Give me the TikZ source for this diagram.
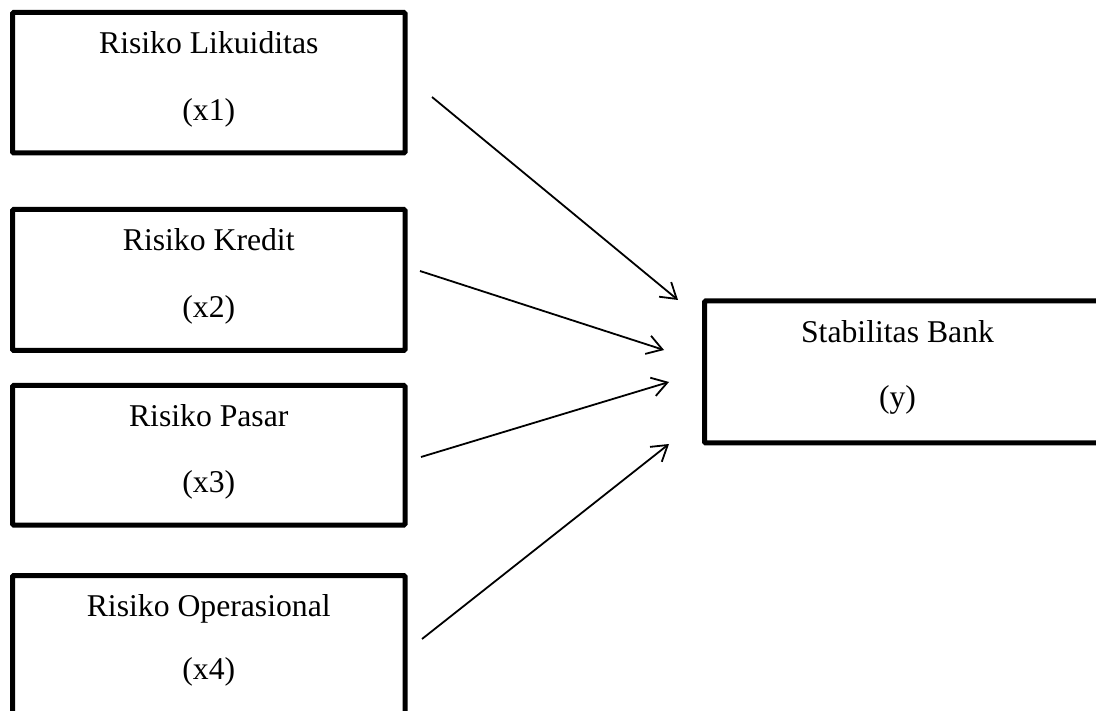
\documentclass[tikz,border=0pt]{standalone}
\usepackage{fontspec}
\setmainfont{Liberation Serif}
\usetikzlibrary{arrows.meta,calc}
\begin{document}
\begin{tikzpicture}[x=1pt,y=-1pt,
  varbox/.style={draw=black,line width=5pt,rounded corners=1.2pt,inner sep=0pt,outer sep=0pt,anchor=north west},
  lbl/.style={inner sep=0pt,anchor=base,font=\fontsize{31.7}{38}\selectfont},
  arr/.style={draw=black,line width=1.8pt,-{Straight Barb[length=15pt,width=19pt,line width=1.8pt]}}]
\clip (0,0) rectangle (1096,711);
% boxes
\node[varbox,minimum width=392.5pt,minimum height=140.5pt] (b1) at (12.5,12.5) {};
\node[varbox,minimum width=392.5pt,minimum height=141pt] (b2) at (12.5,209.5) {};
\node[varbox,minimum width=392.5pt,minimum height=139.5pt] (b3) at (12.5,385.5) {};
\node[varbox,minimum width=392.5pt,minimum height=160pt] (b4) at (12.5,575.5) {};
\node[varbox,minimum width=410pt,minimum height=142pt] (by) at (704.5,301) {};
% labels
\node[lbl] (t1a) at (208.75,54) {Risiko Likuiditas};
\node[lbl] (t1b) at (208.75,121) {(x1)};
\node[lbl] (t2a) at (208.75,251) {Risiko Kredit};
\node[lbl] (t2b) at (208.75,318) {(x2)};
\node[lbl] (t3a) at (208.75,427) {Risiko Pasar};
\node[lbl] (t3b) at (208.75,493) {(x3)};
\node[lbl] (t4a) at (208.75,616) {Risiko Operasional};
\node[lbl] (t4b) at (208.75,679) {(x4)};
\node[lbl] (tya) at (897.5,343) {Stabilitas Bank};
\node[lbl] (tyb) at (897.5,408) {(y)};
% connector ends
\coordinate (s1) at (432,97);
\coordinate (e1) at (678,300);
\coordinate (s2) at (420,271);
\coordinate (e2) at (664,350);
\coordinate (s3) at (421,457);
\coordinate (e3) at (669,382);
\coordinate (s4) at (422,639);
\coordinate (e4) at (669,444);
\draw[arr] (s1) -- (e1);
\draw[arr] (s2) -- (e2);
\draw[arr] (s3) -- (e3);
\draw[arr] (s4) -- (e4);
\end{tikzpicture}
\end{document}
